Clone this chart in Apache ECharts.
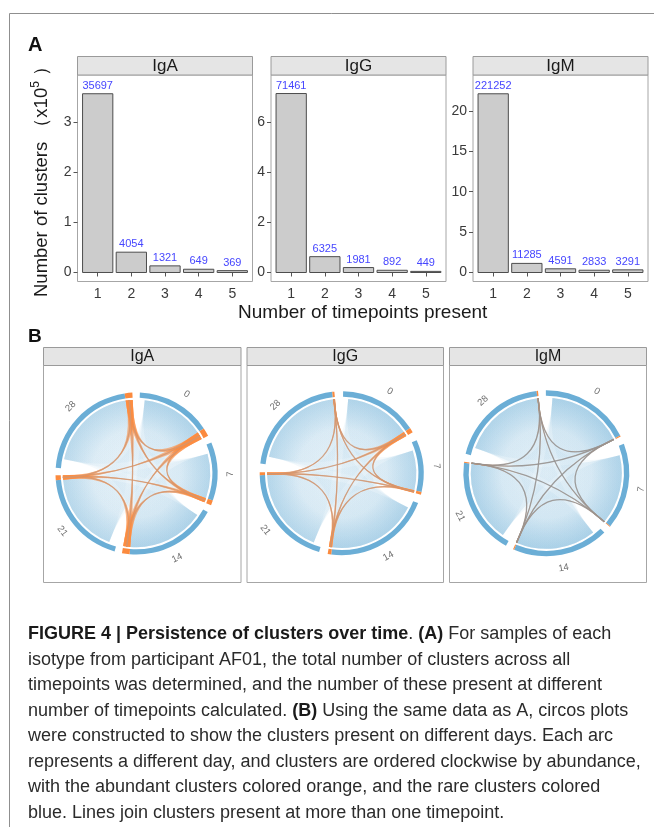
<!DOCTYPE html>
<html><head><meta charset="utf-8">
<script src="https://cdn.jsdelivr.net/npm/echarts@6/dist/echarts.min.js"></script>
<style>html,body{margin:0;padding:0;background:#fff}#c{width:654px;height:827px}</style>
</head><body><div id="c"></div>
<script>
// ---------------- data ----------------
const isotypes = ['IgA', 'IgG', 'IgM'];
const timepoints = [1, 2, 3, 4, 5];
const igaCounts = [35697, 4054, 1321, 649, 369];
const iggCounts = [71461, 6325, 1981, 892, 449];
const igmCounts = [221252, 11285, 4591, 2833, 3291];
const igaYTicks = [0, 1, 2, 3];
const iggYTicks = [0, 2, 4, 6];
const igmYTicks = [0, 5, 10, 15, 20];
const yRangeIgA = [-0.18, 3.944];
const yRangeIgG = [-0.359, 7.886];
const yRangeIgM = [-1.113, 24.45];

const days = ['0', '7', '14', '21', '28'];
// relative arc size per day (share of circle, degrees)
const igaArcs = [59.8, 45.5, 72, 73, 83];
const iggArcs = [59, 39, 78.6, 74.7, 78];
const igmArcs = [64, 61, 68, 69, 70.7];
// abundant (orange) part at the clockwise end of each arc
const igaOrange = [6, 3.5, 5.5, 3.5, 5.5];
const iggOrange = [3.5, 2, 2.5, 2, 1.5];
const igmOrange = [0.8, 0.6, 0.8, 0.8, 1];
// leading (rarest) part of each arc without shared clusters
const igaUnlinked = [4, 7, 6, 6, 7];
const iggUnlinked = [4, 6, 6, 6, 6];
const igmUnlinked = [5, 7, 6, 6, 6];
// shared-cluster links between days: [fromDay, toDay, relative density]
const igaLinks = [[0,1,0.9],[0,2,1.0],[0,3,0.8],[0,4,0.8],[1,2,0.9],[1,3,0.7],[1,4,0.7],[2,3,0.9],[2,4,0.8],[3,4,0.6]];
const iggLinks = [[0,1,0.9],[0,2,1.0],[0,3,0.8],[0,4,0.8],[1,2,0.8],[1,3,0.8],[1,4,0.7],[2,3,0.9],[2,4,0.9],[3,4,0.7]];
const igmLinks = [[0,1,1.0],[0,2,1.0],[0,3,0.9],[0,4,0.9],[1,2,0.9],[1,3,0.8],[1,4,0.8],[2,3,1.0],[2,4,0.9],[3,4,0.8]];

// ---------------- layout / style ----------------
const FONT = '"Liberation Sans", Arial, Helvetica, sans-serif';
const countsList = [igaCounts, iggCounts, igmCounts];
const yTicksList = [igaYTicks, iggYTicks, igmYTicks];
const yRanges = [yRangeIgA, yRangeIgG, yRangeIgM];
const gridsA = [
  {left: 77.5, top: 75, width: 175, height: 206.5},
  {left: 271, top: 75, width: 175, height: 206.5},
  {left: 473, top: 75, width: 175, height: 206.5}
];
const panelsB = [
  {x: 43.5, w: 197.5}, {x: 247, w: 196.5}, {x: 449.5, w: 197}
];
const polarCenters = [[136.5, 473.5], [341.7, 473.3], [546.3, 473.3]];
const polarRadii = [81, 82, 83];
const startDegs = [2.4, 1, -0.3];
const arcsList = [igaArcs, iggArcs, igmArcs];
const orangeList = [igaOrange, iggOrange, igmOrange];
const unlinkedList = [igaUnlinked, iggUnlinked, igmUnlinked];
const linksList = [igaLinks, iggLinks, igmLinks];
const starColors = ['rgba(212,150,112,0.85)', 'rgba(205,150,118,0.85)', 'rgba(150,148,146,0.9)'];
const orangeFillA = [0.6, 0.55, 0.5];
const RING_OUT = 1.0, RING_IN = 0.935, LINK_R = 0.91, LABEL_R = 1.16, BEND = -0.08;
const BLUE = '#6baed6', ORANGE = '#fb8a3e';

function arcLayout(arcs) {
  const gap = (360 - arcs.reduce((a, b) => a + b, 0)) / arcs.length;
  let s = 0;
  return arcs.map(a => { const r = [s, s + a]; s += a + gap; return r; });
}
const dist = (p, c) => Math.hypot(p[0] - c[0], p[1] - c[1]);
function ctrl(c, u, v) {
  const mx = (u[0] + v[0]) / 2, my = (u[1] + v[1]) / 2;
  return [c[0] + BEND * (mx - c[0]), c[1] + BEND * (my - c[1])];
}
function ribbonPath(api, c, R, a0, a1, b0, b1, twisted) {
  const P = v => api.coord([LINK_R, v]);
  const p1 = P(a0), p2 = P(a1);
  let p3, p4, sweep;
  if (twisted) { p3 = P(b1); p4 = P(b0); sweep = 0; } else { p3 = P(b0); p4 = P(b1); sweep = 1; }
  const q23 = ctrl(c, p2, p3), q41 = ctrl(c, p4, p1);
  return 'M' + p1[0] + ' ' + p1[1] +
    ' A' + R + ' ' + R + ' 0 0 1 ' + p2[0] + ' ' + p2[1] +
    ' Q' + q23[0] + ' ' + q23[1] + ' ' + p3[0] + ' ' + p3[1] +
    ' A' + R + ' ' + R + ' 0 0 ' + sweep + ' ' + p4[0] + ' ' + p4[1] +
    ' Q' + q41[0] + ' ' + q41[1] + ' ' + p1[0] + ' ' + p1[1] + ' Z';
}
function linePath(api, c, a, b) {
  const p = api.coord([LINK_R, a]), r = api.coord([LINK_R, b]);
  const q = ctrl(c, p, r);
  return 'M' + p[0] + ' ' + p[1] + ' Q' + q[0] + ' ' + q[1] + ' ' + r[0] + ' ' + r[1];
}

const series = [];
const xAxes = [], yAxes = [], grids = [];
// ---- Panel A bars
for (let i = 0; i < 3; i++) {
  grids.push(Object.assign({show: true, borderColor: '#a6a6a6', borderWidth: 1, backgroundColor: 'transparent'}, gridsA[i]));
  xAxes.push({
    gridIndex: i, type: 'value', min: 0.4, max: 5.6,
    axisLine: {show: false}, splitLine: {show: false},
    axisTick: {show: true, length: 4, lineStyle: {color: '#555'}, customValues: timepoints},
    axisLabel: {customValues: timepoints, fontSize: 14, color: '#3a3a3a', margin: 6, fontFamily: FONT}
  });
  yAxes.push({
    gridIndex: i, type: 'value', min: yRanges[i][0], max: yRanges[i][1],
    axisLine: {show: false}, splitLine: {show: false},
    axisTick: {show: true, length: 4, lineStyle: {color: '#555'}, customValues: yTicksList[i]},
    axisLabel: {customValues: yTicksList[i], fontSize: 14, color: '#3a3a3a', margin: 6, fontFamily: FONT}
  });
  const counts = countsList[i];
  series.push({
    type: 'custom', xAxisIndex: i, yAxisIndex: i, silent: true,
    data: timepoints.map((t, j) => [t, counts[j] / 10000, counts[j]]),
    renderItem: (params, api) => {
      const x = api.value(0), v = api.value(1), cnt = api.value(2);
      const p0 = api.coord([x - 0.45, v]), p1 = api.coord([x + 0.45, 0]);
      return {type: 'group', children: [
        {type: 'rect', shape: {x: p0[0], y: p0[1], width: p1[0] - p0[0], height: p1[1] - p0[1]},
         style: {fill: '#cccccc', stroke: '#4d4d4d', lineWidth: 1}},
        {type: 'text', x: (p0[0] + p1[0]) / 2, y: p0[1] - 2.5,
         style: {text: String(cnt), textAlign: 'center', textVerticalAlign: 'bottom', align: 'center', verticalAlign: 'bottom',
                 fontSize: 11, fontFamily: FONT, fill: '#4646ff'}}
      ]};
    }
  });
}

// ---- Panel B circos
const polars = [], angleAxes = [], radiusAxes = [];
const blueSeries = [], orangeSeries = [], ringSeries = [];
for (let i = 0; i < 3; i++) {
  polars.push({center: polarCenters[i], radius: polarRadii[i]});
  angleAxes.push({polarIndex: i, type: 'value', min: 0, max: 360, startAngle: 90 - startDegs[i], clockwise: true,
    show: false, axisLine: {show: false}, axisTick: {show: false}, axisLabel: {show: false}, splitLine: {show: false}});
  radiusAxes.push({polarIndex: i, type: 'value', min: 0, max: 1, show: false,
    axisLine: {show: false}, axisTick: {show: false}, axisLabel: {show: false}, splitLine: {show: false}});
  const L = arcLayout(arcsList[i]);
  const orange = orangeList[i];
  const unlinked = unlinkedList[i];
  const links = linksList[i];
  blueSeries.push({
    type: 'custom', coordinateSystem: 'polar', polarIndex: i, silent: true, z: 2,
    data: links.map(l => [l[0], l[1], l[2]]),
    renderItem: (params, api) => {
      const k = api.value(0), m = api.value(1), w = api.value(2);
      const c = api.coord([0, 0]);
      const R = dist(api.coord([LINK_R, 0]), c);
      const pd = ribbonPath(api, c, R, L[k][0] + unlinked[k], L[k][1] - orange[k], L[m][0] + unlinked[m], L[m][1] - orange[m], false);
      const fill = {type: 'radial', x: c[0], y: c[1], r: R, global: true, colorStops: [
        {offset: 0, color: 'rgba(107,174,214,' + (0.06 * w).toFixed(3) + ')'},
        {offset: 0.6, color: 'rgba(107,174,214,' + (0.09 * w).toFixed(3) + ')'},
        {offset: 1, color: 'rgba(107,174,214,' + (0.2 * w).toFixed(3) + ')'}]};
      return {type: 'path', shape: {pathData: pd}, style: {fill: fill, stroke: null}};
    }
  });
  orangeSeries.push({
    type: 'custom', coordinateSystem: 'polar', polarIndex: i, silent: true, z: 3,
    data: links.map(l => [l[0], l[1], l[2]]),
    renderItem: (params, api) => {
      const k = api.value(0), m = api.value(1);
      const c = api.coord([0, 0]);
      const R = dist(api.coord([LINK_R, 0]), c);
      const kb = L[k][1] - orange[k], mb = L[m][1] - orange[m];
      const pd = ribbonPath(api, c, R, kb, L[k][1], mb, L[m][1], true);
      const lp = linePath(api, c, (kb + L[k][1]) / 2, (mb + L[m][1]) / 2);
      return {type: 'group', children: [
        {type: 'path', shape: {pathData: pd}, style: {fill: 'rgba(251,138,62,' + orangeFillA[i] + ')', stroke: null}},
        {type: 'path', shape: {pathData: lp}, style: {fill: null, stroke: starColors[i], lineWidth: 1.3}}
      ]};
    }
  });
  ringSeries.push({
    type: 'custom', coordinateSystem: 'polar', polarIndex: i, silent: true, z: 4,
    data: days.map((d, k) => [k, 0]),
    renderItem: (params, api) => {
      const k = api.value(0);
      const s = L[k][0], e = L[k][1], os = e - orange[k];
      const c = api.coord([0, 0]);
      const R = dist(api.coord([RING_OUT, s]), c), R0 = dist(api.coord([RING_IN, s]), c);
      const A = v => { const p = api.coord([1, v]); return Math.atan2(p[1] - c[1], p[0] - c[0]); };
      const sect = (v0, v1, fill) => {
        const a0 = A(v0); let a1 = A(v1);
        while (a1 < a0) a1 += 2 * Math.PI;
        return {type: 'sector', shape: {cx: c[0], cy: c[1], r0: R0, r: R, startAngle: a0, endAngle: a1, clockwise: true}, style: {fill: fill}};
      };
      const lp = api.coord([LABEL_R, (s + e) / 2]);
      let th = Math.atan2(lp[0] - c[0], -(lp[1] - c[1])) * 180 / Math.PI;
      if (th < 0) th += 360;
      const rot = (th > 90 && th < 270) ? th - 180 : (th >= 270 ? th - 360 : th);
      return {type: 'group', children: [
        sect(s, os, BLUE), sect(os, e, ORANGE),
        {type: 'text', x: lp[0], y: lp[1], rotation: -rot * Math.PI / 180,
         style: {text: days[k], fontSize: 9.5, fontFamily: FONT, fill: '#6e6e6e',
                 textAlign: 'center', textVerticalAlign: 'middle', align: 'center', verticalAlign: 'middle'}}
      ]};
    }
  });
}
series.push(...blueSeries, ...orangeSeries, ...ringSeries);

// ---- graphics: frame, strips, titles, caption
const graphics = [];
graphics.push({type: 'line', shape: {x1: 9.5, y1: 13.5, x2: 654, y2: 13.5}, style: {stroke: '#8f8f8f', lineWidth: 1}});
graphics.push({type: 'line', shape: {x1: 9.5, y1: 13.5, x2: 9.5, y2: 827}, style: {stroke: '#8f8f8f', lineWidth: 1}});
const txt = (x, y, text, size, extra) => Object.assign({type: 'text', x: x, y: y, z: 10,
  style: Object.assign({text: text, fontSize: size, fontFamily: FONT, fill: '#1a1a1a',
    textAlign: 'center', textVerticalAlign: 'middle', align: 'center', verticalAlign: 'middle'}, (extra || {}).style || {})},
  (extra || {}).el || {});
graphics.push(txt(28, 45.5, 'A', 20, {style: {fontWeight: 'bold', textAlign: 'left', align: 'left', fill: '#111'}}));
graphics.push(txt(28, 336.7, 'B', 19, {style: {fontWeight: 'bold', textAlign: 'left', align: 'left', fill: '#111'}}));
for (let i = 0; i < 3; i++) {
  const g = gridsA[i];
  graphics.push({type: 'rect', shape: {x: g.left, y: 56.5, width: g.width, height: 18.5}, style: {fill: '#e5e5e5', stroke: '#9a9a9a', lineWidth: 1}});
  graphics.push(txt(g.left + g.width / 2, 66, isotypes[i], 17));
  const p = panelsB[i];
  graphics.push({type: 'rect', shape: {x: p.x, y: 365.5, width: p.w, height: 217}, style: {fill: null, stroke: '#a6a6a6', lineWidth: 1}});
  graphics.push({type: 'rect', shape: {x: p.x, y: 347.5, width: p.w, height: 18}, style: {fill: '#e5e5e5', stroke: '#9a9a9a', lineWidth: 1}});
  graphics.push(txt(p.x + p.w / 2, 356.5, isotypes[i], 16));
}
graphics.push(txt(362.7, 313, 'Number of timepoints present', 19));
graphics.push({type: 'text', x: 41.5, y: 177, rotation: Math.PI / 2, z: 10,
  style: {text: '{n|Number of clusters （x10}{s|5}{n| ）}', fontFamily: FONT, fill: '#1a1a1a',
    textAlign: 'center', textVerticalAlign: 'middle', align: 'center', verticalAlign: 'middle',
    rich: {n: {fontSize: 18.5, fontFamily: FONT, fill: '#1a1a1a', lineHeight: 24},
           s: {fontSize: 12, fontFamily: FONT, fill: '#1a1a1a', verticalAlign: 'top', lineHeight: 24}}}});

const captionLines = [
  '{b|FIGURE 4 | Persistence of clusters over time}{n|. }{b|(A)}{n| For samples of each}',
  '{n|isotype from participant AF01, the total number of clusters across all}',
  '{n|timepoints was determined, and the number of these present at different}',
  '{n|number of timepoints calculated. }{b|(B)}{n| Using the same data as A, circos plots}',
  '{n|were constructed to show the clusters present on different days. Each arc}',
  '{n|represents a different day, and clusters are ordered clockwise by abundance,}',
  '{n|with the abundant clusters colored orange, and the rare clusters colored}',
  '{n|blue. Lines join clusters present at more than one timepoint.}'
];
captionLines.forEach((t, j) => {
  graphics.push({type: 'text', x: 28, y: 634.3 + j * 25.5, z: 10,
    style: {text: t, fontFamily: FONT, fontSize: 18, fill: '#2b2b2b',
      textAlign: 'left', textVerticalAlign: 'middle', align: 'left', verticalAlign: 'middle',
      rich: {n: {fontSize: 18, fontFamily: FONT, fill: '#2b2b2b'},
             b: {fontSize: 18, fontFamily: FONT, fill: '#1a1a1a', fontWeight: 'bold'}}}});
});

const chart = echarts.init(document.getElementById('c'), null, {renderer: 'canvas'});
chart.setOption({
  animation: false,
  backgroundColor: '#ffffff',
  grid: grids, xAxis: xAxes, yAxis: yAxes,
  polar: polars, angleAxis: angleAxes, radiusAxis: radiusAxes,
  series: series,
  graphic: {elements: graphics}
});
</script></body></html>
